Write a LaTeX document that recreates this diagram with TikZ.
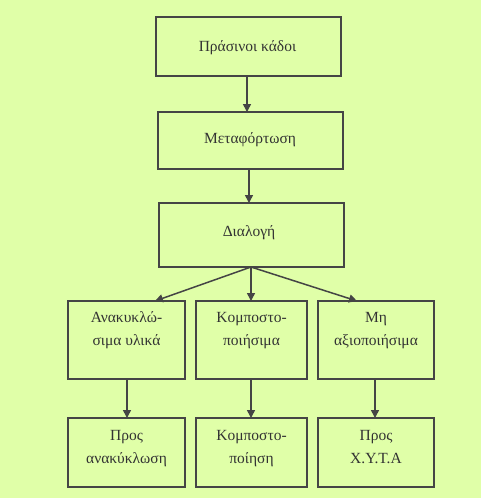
\documentclass[tikz,border=0pt]{standalone}
\usepackage{fontspec}
\setmainfont{Liberation Serif}
\usetikzlibrary{arrows.meta}
\definecolor{bg}{HTML}{E0FFA8}
\definecolor{ln}{HTML}{454545}
\definecolor{tx}{HTML}{333333}
\tikzset{
  box/.style={draw=ln, line width=1.6pt, fill=bg, inner sep=0pt},
  lbl/.style={text=tx, font=\fontsize{15.5}{23}\selectfont, align=center},
  conn/.style={draw=ln, line width=1.5pt, -{Triangle[length=8pt,width=8pt]}, shorten >=0pt}
}
\begin{document}
\begin{tikzpicture}[x=1pt,y=-1pt]
\fill[bg] (0,0) rectangle (481,498);
\useasboundingbox (0,0) rectangle (481,498);
% top column
\draw[box] (156,17) rectangle (341,76);
\node[lbl] (t1) at (247.5,48) {Πράσινοι κάδοι};
\coordinate (b1b) at (247,76);
\draw[box] (158,112) rectangle (343,169);
\node[lbl] (t2) at (250,140) {Μεταφόρτωση};
\coordinate (b2t) at (247,112);
\coordinate (b2b) at (249,169);
\draw[box] (159,203) rectangle (344,267);
\node[lbl] (t3) at (249,233) {Διαλογή};
\coordinate (b3t) at (249,203);
\coordinate (b3b) at (251,267);
% row 3
\draw[box] (68,301) rectangle (185,379);
\draw[box] (196,301) rectangle (307,379);
\draw[box] (318,301) rectangle (434,379);
\node[lbl, anchor=north] (a1) at (126.5,308.5) {Ανακυκλώ-\\σιμα υλικά};
\node[lbl, anchor=north] (a2) at (251.5,308.5) {Κομποστο-\\ποιήσιμα};
\node[lbl, anchor=north] (a3) at (376,308.5) {Μη\\αξιοποιήσιμα};
\coordinate (a1t) at (155,301);
\coordinate (a2t) at (251,301);
\coordinate (a3t) at (357,301);
\coordinate (a1b) at (127,379);
\coordinate (a2b) at (251,379);
\coordinate (a3b) at (375,379);
% row 4
\draw[box] (68,418) rectangle (185,487);
\draw[box] (196,418) rectangle (307,487);
\draw[box] (318,418) rectangle (434,487);
\node[lbl, anchor=north] (c1) at (126.5,426.5) {Προς\\ανακύκλωση};
\node[lbl, anchor=north] (c2) at (251.5,426.5) {Κομποστο-\\ποίηση};
\node[lbl, anchor=north] (c3) at (376,426.5) {Προς\\Χ.Υ.Τ.Α};
\coordinate (c1t) at (127,418);
\coordinate (c2t) at (251,418);
\coordinate (c3t) at (375,418);
% connectors
\draw[conn] (b1b) -- (b2t);
\draw[conn] (b2b) -- (b3t);
\draw[conn] (b3b) -- (a1t);
\draw[conn] (b3b) -- (a2t);
\draw[conn] (b3b) -- (a3t);
\draw[conn] (a1b) -- (c1t);
\draw[conn] (a2b) -- (c2t);
\draw[conn] (a3b) -- (c3t);
\end{tikzpicture}
\end{document}
